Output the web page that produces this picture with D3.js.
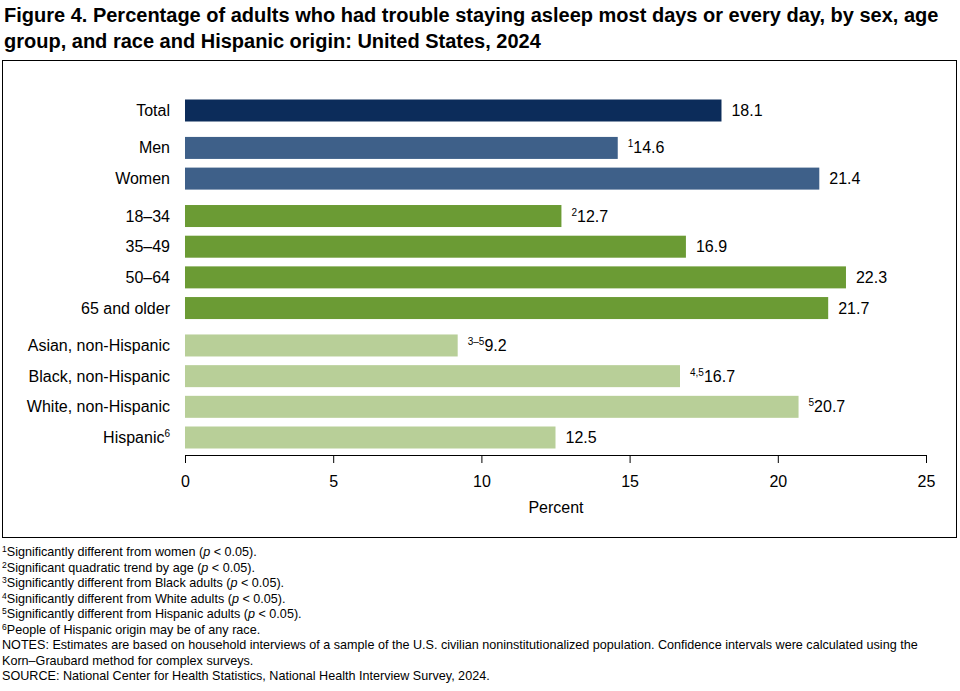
<!DOCTYPE html>
<html><head><meta charset="utf-8">
<script src="https://cdn.jsdelivr.net/npm/d3@7"></script>
<style>body{margin:0;background:#fff;font-family:"Liberation Sans",Arial,sans-serif}</style>
</head><body><svg id="c" width="960" height="691"></svg>
<script>
// chart data
var categories = ["Total", "Men", "Women", "18–34", "35–49", "50–64", "65 and older",
  "Asian, non-Hispanic", "Black, non-Hispanic", "White, non-Hispanic", "Hispanic"];
var groups = [0, 1, 1, 2, 2, 2, 2, 3, 3, 3, 3];
var values = [18.1, 14.6, 21.4, 12.7, 16.9, 22.3, 21.7, 9.2, 16.7, 20.7, 12.5];
var valueNotes = ["", "1", "", "2", "", "", "", "3–5", "4,5", "5", ""];
var labelNotes = ["", "", "", "", "", "", "", "", "", "", "6"];
var xTicks = [0, 5, 10, 15, 20, 25];
var groupColors = ["#0c2c5a", "#3e6089", "#6b9b34", "#b8cf98"];
var footnotes = [
  ["1", "Significantly different from women (", "p", " < 0.05)."],
  ["2", "Significant quadratic trend by age (", "p", " < 0.05)."],
  ["3", "Significantly different from Black adults (", "p", " < 0.05)."],
  ["4", "Significantly different from White adults (", "p", " < 0.05)."],
  ["5", "Significantly different from Hispanic adults (", "p", " < 0.05)."],
  ["6", "People of Hispanic origin may be of any race.", "", ""]
];
var notes = [
  "NOTES: Estimates are based on household interviews of a sample of the U.S. civilian noninstitutionalized population. Confidence intervals were calculated using the",
  "Korn–Graubard method for complex surveys.",
  "SOURCE: National Center for Health Statistics, National Health Interview Survey, 2024."
];

var svg = d3.select("#c");
svg.append("text").attr("x", 4).attr("y", 22).attr("font-size", 20).attr("font-weight", "bold")
  .text("Figure 4. Percentage of adults who had trouble staying asleep most days or every day, by sex, age");
svg.append("text").attr("x", 4).attr("y", 48).attr("font-size", 20).attr("font-weight", "bold")
  .text("group, and race and Hispanic origin: United States, 2024");
svg.append("rect").attr("x", 2.5).attr("y", 60.5).attr("width", 954).attr("height", 477)
  .attr("fill", "none").attr("stroke", "#000");

var x = d3.scaleLinear().domain([0, 25]).range([185, 926]);
var slots = categories.map(function (c, i) { return i + groups[i] * 0.22; });
var y = d3.scaleLinear().domain([0, slots[10]]).range([110.5, 437.5]);
var bh = 22;

var g = svg.append("g");
categories.forEach(function (c, i) {
  var cy = y(slots[i]);
  g.append("rect").attr("x", x(0)).attr("y", cy - bh / 2).attr("width", x(values[i]) - x(0))
    .attr("height", bh).attr("fill", groupColors[groups[i]]);
  var lt = g.append("text").attr("x", 170).attr("y", cy + 5.5).attr("text-anchor", "end")
    .attr("font-size", 16).text(c);
  if (labelNotes[i]) lt.append("tspan").attr("dy", -6).attr("font-size", 10).text(labelNotes[i]);
  var vt = g.append("text").attr("x", x(values[i]) + 10).attr("y", cy + 5.5).attr("font-size", 16);
  if (valueNotes[i]) vt.append("tspan").attr("dy", -6).attr("font-size", 10).text(valueNotes[i]);
  vt.append("tspan").attr("dy", valueNotes[i] ? 6 : 0).text(values[i].toFixed(1));
});

var ax = svg.append("g").attr("transform", "translate(0,455)")
  .call(d3.axisBottom(x).tickValues(xTicks).tickSize(8).tickFormat(d3.format("d")));
ax.select(".domain").attr("stroke", "#000");
ax.selectAll("text").attr("font-size", 16).attr("dy", "1.3em").attr("font-family", "Liberation Sans, Arial");
svg.append("text").attr("x", 556).attr("y", 513).attr("text-anchor", "middle").attr("font-size", 16).text("Percent");

var fy = 556;
var fs = 12.6;
footnotes.forEach(function (f, i) {
  var t = svg.append("text").attr("x", 2).attr("y", fy + i * 15.5).attr("font-size", fs);
  t.append("tspan").attr("dy", -4).attr("font-size", 8.5).text(f[0]);
  t.append("tspan").attr("dy", 4).text(f[1]);
  if (f[2]) { t.append("tspan").attr("font-style", "italic").text(f[2]); t.append("tspan").text(f[3]); }
});
notes.forEach(function (n, i) {
  svg.append("text").attr("x", 2).attr("y", fy + (6 + i) * 15.5).attr("font-size", fs).text(n);
});
</script></body></html>
